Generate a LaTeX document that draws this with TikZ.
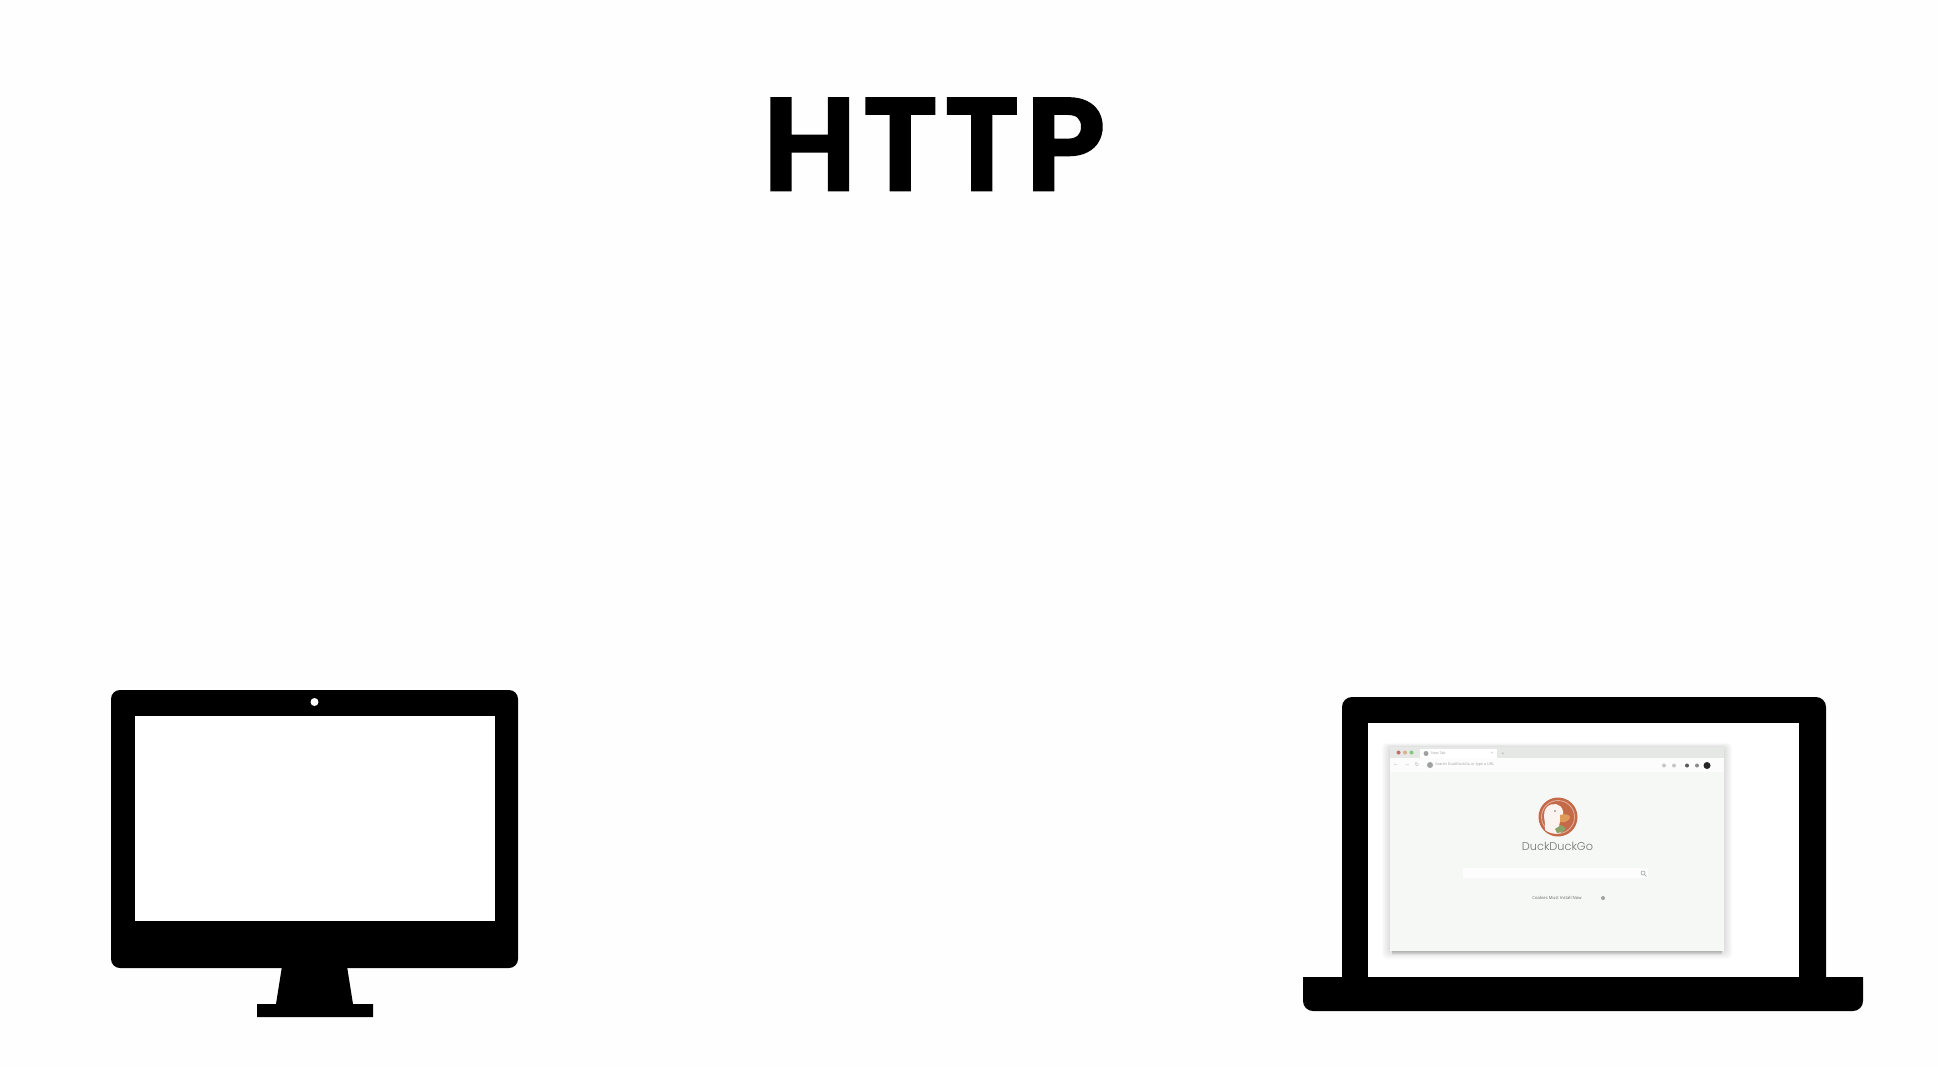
\documentclass[tikz,border=0pt]{standalone}
\usepackage{fontspec}
\setmainfont{Poppins}
\newfontfamily\uifont{Open Sans}
\newfontfamily\symfont{DejaVu Sans}
\newfontfamily\titlefont[LetterSpace=4.5,FakeBold=2.2]{Poppins SemiBold}
\definecolor{pagebg}{HTML}{FEFEFE}
\definecolor{winbar}{HTML}{E6E8E6}
\definecolor{winpage}{HTML}{F6F8F6}
\definecolor{duckorange}{HTML}{C46A48}
\definecolor{duckbeak}{HTML}{DE9A58}
\definecolor{duckgreen}{HTML}{8AA26A}
\definecolor{uigray}{HTML}{A0A2A2}
\tikzset{
  device/.style={fill=black,draw=none},
  cutout/.style={fill=white,draw=none},
  shadowlayer/.style={fill=black,fill opacity=0.016,draw=none,rounded corners=4pt},
  uitext/.style={font=\uifont,inner sep=0pt,text=uigray},
  dotbtn/.style={circle,inner sep=0pt,minimum size=4pt,draw=none},
  uiicon/.style={circle,inner sep=0pt,minimum size=4pt,fill=uigray,draw=none}
}
\begin{document}
\begin{tikzpicture}[x=1pt,y=-1pt]
\useasboundingbox (0,0) rectangle (1938,1066);
\fill[pagebg] (0,0) rectangle (1938,1066);

% title
\node[font=\fontsize{131}{131}\selectfont\titlefont,text=black,inner sep=0pt,anchor=base] (title) at (934,190) {HTTP};

% desktop monitor
\fill[device,rounded corners=9pt] (111,690) rectangle (518,968);
\fill[cutout] (135,716) rectangle (495,921);
\fill[device] (283,960) -- (346,960) -- (353,1004) -- (373,1004) -- (373,1017) -- (257,1017) -- (257,1004) -- (276,1004) -- cycle;
\node[circle,fill=white,inner sep=0pt,minimum size=8pt] (camera) at (314.5,702) {};

% laptop
\fill[device,rounded corners=10pt] (1342,697) -- (1826,697) -- (1826,1000) -- (1342,1000) -- cycle;
\fill[cutout] (1368,723) rectangle (1799,977);
\fill[device] (1303,977) -- (1863,977) [rounded corners=10pt] -- (1863,1011) -- (1303,1011) [sharp corners] -- cycle;

% browser window shadow
\foreach \g in {1,2,...,8}{
  \fill[shadowlayer] ({1390-\g},{747-0.5*\g}) rectangle ({1724+\g},{951+1.0*\g});
}
\foreach \g in {1,2,3,4}{
  \fill[black,fill opacity=0.05] ({1392},{945}) rectangle ({1722},{951+\g});
}
% browser window
\fill[winpage] (1390,747) rectangle (1724,951);
\fill[winbar] (1390,747) rectangle (1724,758);
\fill[white] (1420,749) -- (1497,749) -- (1497,758) -- (1420,758) -- cycle;
\fill[white!60!winpage] (1390,758) rectangle (1724,772);
\node[dotbtn,fill=red!45!gray!80] (d1) at (1398.5,752.5) {};
\node[dotbtn,fill=orange!50!gray!60] (d2) at (1405,752.5) {};
\node[dotbtn,fill=green!40!gray!70] (d3) at (1411.5,752.5) {};
\node[uiicon,minimum size=5pt] (tabicon) at (1426,753.5) {};
\node[uitext,font=\uifont\fontsize{3.6}{4}\selectfont,anchor=west] (tabtitle) at (1431,753.5) {New Tab};
\node[uitext,font=\uifont\fontsize{4}{4}\selectfont] (tabclose) at (1492,753.5) {×};
\node[uitext,font=\uifont\fontsize{5}{5}\selectfont] (tabnew) at (1503,753.5) {+};
\node[uitext,font=\symfont\fontsize{5}{5}\selectfont,text=gray!40] (back) at (1396,765) {←};
\node[uitext,font=\symfont\fontsize{5}{5}\selectfont,text=gray!40] (forward) at (1407,765) {→};
\node[uitext,font=\symfont\fontsize{5}{5}\selectfont] (reload) at (1417,765) {↻};
\node[uiicon,minimum size=6pt] (urlicon) at (1430,765) {};
\node[uitext,font=\uifont\fontsize{3.7}{4}\selectfont,anchor=west] (urltext) at (1435,765) {Search DuckDuckGo or type a URL};
\node[uiicon,fill=uigray!60,minimum size=4pt] (tb1) at (1664,765.5) {};
\node[uiicon,fill=uigray!60,minimum size=4pt] (tb2) at (1674,765.5) {};
\node[uiicon,fill=black!65,minimum size=4pt] (tb3) at (1687,765.5) {};
\node[uiicon,fill=black!45,minimum size=4pt] (tb4) at (1697,765.5) {};
\node[uiicon,fill=black!85,minimum size=7pt] (tb5) at (1707,765.5) {};

% DuckDuckGo logo
\node[circle,fill=duckorange,inner sep=0pt,minimum size=39pt] (logo) at (1558,817) {};
\node[circle,draw=white!45!duckorange,line width=0.9pt,inner sep=0pt,minimum size=33pt] (logoring) at (1558,817) {};
\fill[white!92!duckorange] (1545,830) .. controls (1546,820) and (1541,814) .. (1547,807) .. controls (1552,802) and (1561,803) .. (1563,811) .. controls (1564,815) and (1561,818) .. (1560,821) .. controls (1559,825) and (1559,829) .. (1561,833) .. controls (1555,835) and (1549,833) .. (1545,830) -- cycle;
\fill[duckbeak] (1560,815) .. controls (1565,813) and (1570,815) .. (1570,817) .. controls (1570,821) and (1564,823) .. (1560,822) -- cycle;
\fill[duckgreen] (1555,829) -- (1561,825) -- (1566,828) -- (1563,832) -- (1557,833) -- cycle;
\node[circle,fill=black!55,inner sep=0pt,minimum size=1.6pt] (duckeye) at (1555,811) {};

\node[font=\fontspec{Poppins Light}\fontsize{11.3}{12}\selectfont,text=black!55,inner sep=0pt] (ddgname) at (1557.5,846) {DuckDuckGo};

% search box
\fill[white!75!winpage] (1463,868) rectangle (1648,878);
\draw[uigray,line width=0.6pt] (1643,873) circle[radius=2] (1644.5,874.5) -- (1646.5,876.5);

% line below
\node[uitext,font=\uifont\fontsize{4.2}{5}\selectfont,text=black!60] (cta) at (1557,898) {Cookies Must Install Now};
\node[uiicon,minimum size=4pt] (ctaicon) at (1603,898) {};
\end{tikzpicture}
\end{document}
